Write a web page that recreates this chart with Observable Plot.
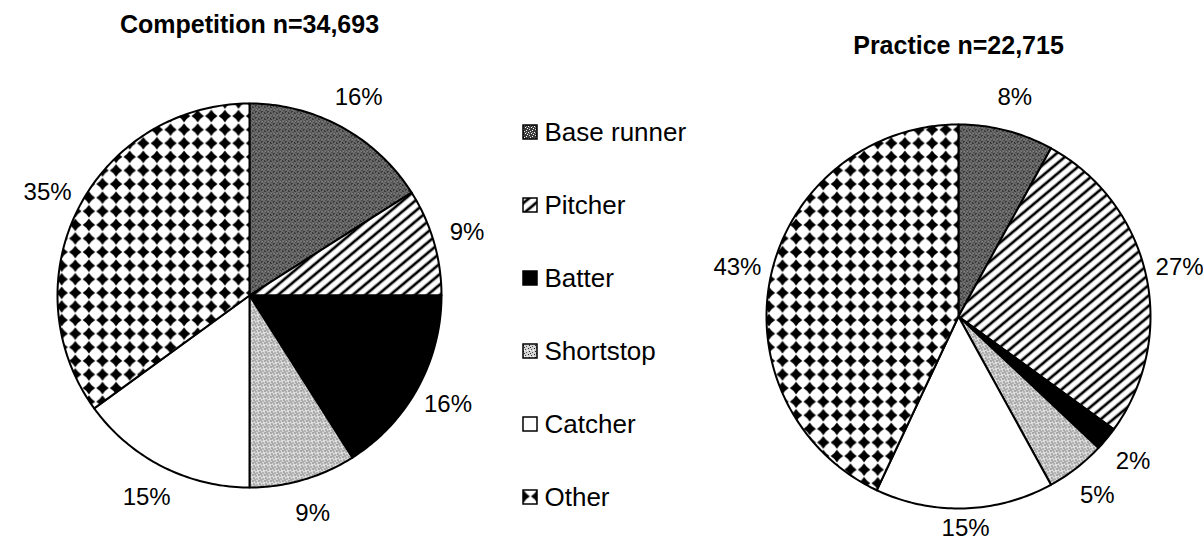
<!DOCTYPE html>
<html><head><meta charset="utf-8">
<script src="https://cdn.jsdelivr.net/npm/d3@7"></script>
<script src="https://cdn.jsdelivr.net/npm/@observablehq/plot@0.6"></script>
<style>body{margin:0;background:#fff;} #chart{width:1203px;height:544px;}</style>
</head><body><div id="chart"></div>
<script>
// ---- data ----
const categories = ["Base runner", "Pitcher", "Batter", "Shortstop", "Catcher", "Other"];
const competitionPct = [16, 9, 16, 9, 15, 35];
const practicePct = [8, 27, 2, 5, 15, 43];
const pieTitles = ["Competition n=34,693", "Practice n=22,715"];

// ---- layout (not data) ----
const W = 1203, H = 544;
const R = 192;
const pieLayout = [{cx: 249, cy: 295}, {cx: 958, cy: 316}];
const patternIds = ["pBase", "pPitch", "pBatter", "pShort", "pCatch", "pOther"];
const font = "'Liberation Sans', Arial, sans-serif";

const pies = [
  {title: pieTitles[0], values: competitionPct, ...pieLayout[0]},
  {title: pieTitles[1], values: practicePct, ...pieLayout[1]}
];

const slicePts = [];
const labels = [];
const titles = [];
pies.forEach(p => {
  titles.push({text: p.title, x: p.cx, y: p.cy - 271});
  let acc = 0;
  p.values.forEach((v, i) => {
    const a0 = acc / 100 * 2 * Math.PI, a1 = (acc + v) / 100 * 2 * Math.PI;
    const key = p.title + "|" + categories[i];
    slicePts.push({x: p.cx, y: p.cy, key, cat: categories[i]});
    const n = Math.max(2, Math.ceil((a1 - a0) / (Math.PI / 180)));
    for (let k = 0; k <= n; k++) {
      const t = a0 + (a1 - a0) * k / n;
      slicePts.push({x: p.cx + R * Math.sin(t), y: p.cy - R * Math.cos(t), key, cat: categories[i]});
    }
    const m = (acc + v / 2) / 100 * 2 * Math.PI;
    const lr = R * 1.18;
    labels.push({
      text: v + "%",
      x: p.cx + lr * Math.sin(m),
      y: Math.min(H - 16, p.cy - lr * Math.cos(m))
    });
    acc += v;
  });
});

const legendItems = categories.map((c, i) => ({cat: c, y: 132 + i * 73}));

const chart = Plot.plot({
  width: W, height: H,
  margin: 0,
  x: {domain: [0, W], range: [0, W], axis: null},
  y: {domain: [0, H], range: [0, H], axis: null},
  color: {type: "ordinal", domain: categories, range: patternIds.map(id => `url(#${id})`)},
  style: {background: "white", fontFamily: font},
  marks: [
    Plot.line(slicePts, {x: "x", y: "y", z: "key", fill: "cat", stroke: "black", strokeWidth: 2, curve: "linear-closed", strokeLinejoin: "round"}),
    Plot.text(labels, {x: "x", y: "y", text: "text", fontSize: 24, fill: "black", textAnchor: "middle", lineAnchor: "middle", fontFamily: font}),
    Plot.text(titles, {x: "x", y: "y", text: "text", fontSize: 25, fontWeight: "bold", fill: "black", textAnchor: "middle", lineAnchor: "middle", fontFamily: font}),
    Plot.rect(legendItems, {x1: 523, x2: 537, y1: d => d.y - 7, y2: d => d.y + 7, fill: "cat", stroke: "black", strokeWidth: 1.5}),
    Plot.text(legendItems, {x: 544, y: "y", text: "cat", fontSize: 26, fill: "black", textAnchor: "start", lineAnchor: "middle", fontFamily: font})
  ]
});

// pattern definitions (styles)
const ns = "http://www.w3.org/2000/svg";
const defs = document.createElementNS(ns, "defs");
defs.innerHTML = `
<pattern id="pBase" patternUnits="userSpaceOnUse" width="6" height="6">
  <rect width="6" height="6" fill="#3a3a3a"/>
  <rect x="0" y="0" width="1" height="1" fill="#fff"/>
  <rect x="3" y="1" width="1" height="1" fill="#fff"/>
  <rect x="1" y="3" width="1" height="1" fill="#ddd"/>
  <rect x="4" y="4" width="1" height="1" fill="#fff"/>
  <rect x="2" y="5" width="1" height="1" fill="#eee"/>
  <rect x="5" y="2" width="1" height="1" fill="#fff"/>
  <rect x="1" y="1" width="1" height="1" fill="#888"/>
  <rect x="4" y="0" width="1" height="1" fill="#999"/>
</pattern>
<pattern id="pPitch" patternUnits="userSpaceOnUse" width="8" height="8" patternTransform="rotate(-40)">
  <rect width="8" height="8" fill="#fff"/>
  <line x1="-1" y1="4" x2="9" y2="4" stroke="#000" stroke-width="2.7"/>
</pattern>
<pattern id="pBatter" patternUnits="userSpaceOnUse" width="4" height="4">
  <rect width="4" height="4" fill="#000"/>
</pattern>
<pattern id="pShort" patternUnits="userSpaceOnUse" width="6" height="6">
  <rect width="6" height="6" fill="#d4d4d4"/>
  <rect x="0" y="0" width="1" height="1" fill="#222"/>
  <rect x="3" y="1" width="1" height="1" fill="#444"/>
  <rect x="1" y="3" width="1" height="1" fill="#222"/>
  <rect x="4" y="4" width="1" height="1" fill="#555"/>
  <rect x="2" y="5" width="1" height="1" fill="#333"/>
  <rect x="5" y="2" width="1" height="1" fill="#fff"/>
  <rect x="2" y="2" width="1" height="1" fill="#fff"/>
</pattern>
<pattern id="pCatch" patternUnits="userSpaceOnUse" width="4" height="4">
  <rect width="4" height="4" fill="#fff"/>
</pattern>
<pattern id="pOther" patternUnits="userSpaceOnUse" width="13.6" height="13.6">
  <rect width="13.6" height="13.6" fill="#fff"/>
  <path d="M6.8,0.6 Q9.2,4.4 13,6.8 Q9.2,9.2 6.8,13 Q4.4,9.2 0.6,6.8 Q4.4,4.4 6.8,0.6Z" fill="#000"/>
</pattern>`;
chart.insertBefore(defs, chart.firstChild);
document.getElementById("chart").appendChild(chart);
</script>
</body></html>
